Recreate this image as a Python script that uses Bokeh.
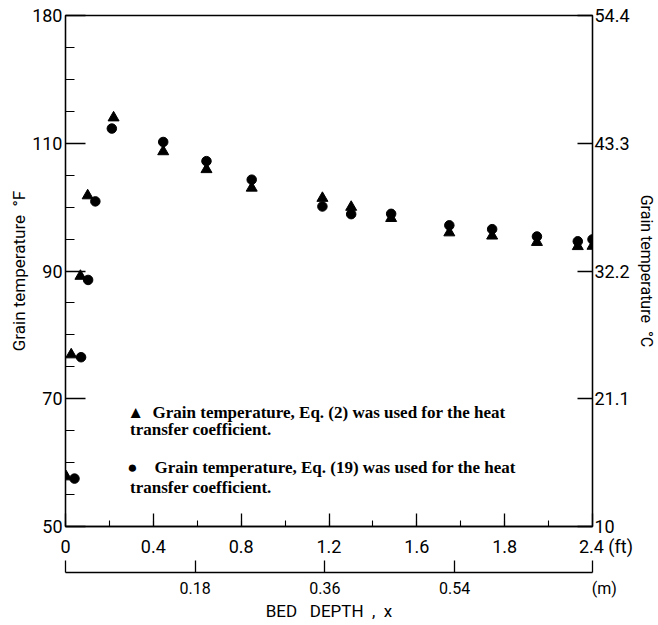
import math
from bokeh.plotting import figure
from bokeh.models import Range1d, LinearAxis, FixedTicker, Label
from bokeh.embed import file_html
from bokeh.resources import INLINE

# ---- data ----
depth_eq2_ft = [0.003, 0.026, 0.068, 0.101, 0.219, 0.445, 0.642, 0.848,
                1.170, 1.301, 1.483, 1.748, 1.943, 2.147, 2.333, 2.400]
temp_eq2_F = [57.8, 76.9, 89.2, 101.8, 114.0, 108.7, 105.9, 103.0,
              101.4, 100.0, 98.25, 96.0, 95.5, 94.5, 93.85, 93.9]

depth_eq19_ft = [0.041, 0.071, 0.103, 0.136, 0.211, 0.445, 0.642, 0.848,
                 1.170, 1.301, 1.483, 1.748, 1.943, 2.147, 2.333, 2.400]
temp_eq19_F = [57.5, 76.5, 88.6, 100.9, 112.3, 110.2, 107.2, 104.3,
               100.1, 98.9, 98.95, 97.15, 96.55, 95.4, 94.65, 94.95]

temp_ticks_F = [50, 70, 90, 110, 130]
temp_tick_labels_F = ["50", "70", "90", "110", "180"]
temp_tick_labels_C = ["10", "21.1", "32.2", "43.3", "54.4"]
temp_minor_F = [50 + 5 * i for i in range(17)]

NB = "\u00a0"
depth_ticks_ft = [0, 0.4, 0.8, 1.2, 1.6, 2.0, 2.4]
depth_tick_labels_ft = ["0", "0.4", "0.8", "1.2", "1.6", "1.8", NB * 6 + "2.4 (ft)"]
depth_minor_ft = [0.2 * i for i in range(13)]

depth_ticks_m = [0, 0.18, 0.36, 0.54, 0.7315]
depth_tick_labels_m = ["", "0.18", "0.36", "0.54", NB * 6 + "(m)"]

legend_lines = [
    "\u25B2" + NB + " Grain temperature, Eq. (2) was used for the heat",
    "transfer coefficient.",
    "\u25CF" + NB * 3 + " Grain temperature, Eq. (19) was used for the heat",
    "transfer coefficient.",
]

SANS = "Roboto"
SERIF = "Liberation Serif"

p = figure(width=658, height=625, output_backend="svg", toolbar_location=None,
           x_range=Range1d(0, 2.4), y_range=Range1d(50, 130),
           x_axis_location=None, y_axis_location=None,
           min_border_left=65, min_border_right=63,
           min_border_top=15, min_border_bottom=99)
p.extra_x_ranges = {"m": Range1d(0, 2.4 * 0.3048)}
p.grid.visible = False
p.outline_line_color = "black"
p.outline_line_width = 1.3
p.background_fill_color = "white"
p.border_fill_color = "white"


def style(ax, font_size="18px"):
    ax.axis_line_color = "black"
    ax.axis_line_width = 1.3
    ax.major_tick_line_color = "black"
    ax.major_tick_line_width = 1.3
    ax.minor_tick_line_color = "black"
    ax.minor_tick_line_width = 1.1
    ax.major_tick_out = 0
    ax.minor_tick_out = 0
    ax.major_label_text_font = SANS
    ax.major_label_text_font_size = font_size
    ax.major_label_text_color = "black"
    ax.axis_label_text_font = SANS
    ax.axis_label_text_font_style = "normal"
    ax.axis_label_text_color = "black"


# left (deg F)
yl = LinearAxis(ticker=FixedTicker(ticks=temp_ticks_F, minor_ticks=temp_minor_F),
                major_label_overrides=dict(zip(temp_ticks_F, temp_tick_labels_F)),
                axis_label="Grain temperature " + NB + "\u00B0F")
style(yl)
yl.major_tick_in = 20
yl.minor_tick_in = 9
yl.major_label_standoff = 3
yl.axis_label_text_font_size = "17px"
yl.axis_label_standoff = 0
p.add_layout(yl, "left")

# right (deg C)
yr = LinearAxis(ticker=FixedTicker(ticks=temp_ticks_F, minor_ticks=[]),
                major_label_overrides=dict(zip(temp_ticks_F, temp_tick_labels_C)),
                axis_label="Grain temperature " + NB + "\u00B0C")
style(yr)
yr.major_tick_in = 15
yr.minor_tick_in = 0
yr.major_label_standoff = 2
yr.axis_label_text_font_size = "16px"
yr.axis_label_standoff = 4
yr.axis_label_orientation = "vertical"
p.add_layout(yr, "right")

# bottom (ft)
xb = LinearAxis(ticker=FixedTicker(ticks=depth_ticks_ft, minor_ticks=depth_minor_ft),
                major_label_overrides=dict(zip(depth_ticks_ft, depth_tick_labels_ft)),
                axis_label=" ")
style(xb)
xb.major_tick_in = 13
xb.minor_tick_in = 6
xb.major_label_standoff = 9
xb.axis_label_text_font_size = "8px"
xb.axis_label_standoff = 1
p.add_layout(xb, "below")

# bottom (m)
xm = LinearAxis(x_range_name="m",
                ticker=FixedTicker(ticks=depth_ticks_m, minor_ticks=[]),
                major_label_overrides=dict(zip(depth_ticks_m, depth_tick_labels_m)),
                axis_label="BED" + NB + NB + " DEPTH" + NB + " ," + NB + " x")
style(xm, "16px")
xm.major_tick_in = 12
xm.minor_tick_in = 0
xm.major_label_standoff = 6
xm.axis_label_text_font_size = "17px"
xm.axis_label_standoff = 0
p.add_layout(xm, "below")

# data
p.scatter(depth_eq2_ft, temp_eq2_F, marker="triangle", size=11,
          fill_color="black", line_color="black")
p.scatter(depth_eq19_ft, temp_eq19_F, marker="circle", size=9.5,
          fill_color="black", line_color="black")

# legend text
legend_pos = [(0.281, 67.85), (0.294, 65.18), (0.281, 59.2), (0.294, 56.1)]
for (lx, ly), txt in zip(legend_pos, legend_lines):
    p.add_layout(Label(x=lx, y=ly, text=txt, text_align="left", text_baseline="middle",
                       text_font=SERIF, text_font_style="bold", text_font_size="17px",
                       text_color="black"))

open("out.html", "w").write(file_html(p, INLINE))
